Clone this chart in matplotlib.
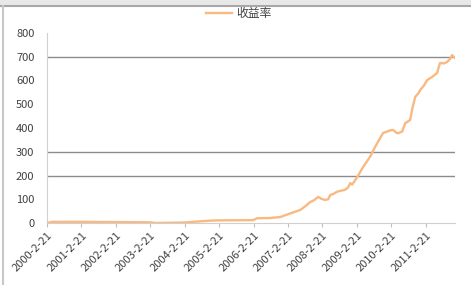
import numpy as np
import pandas as pd
import matplotlib
matplotlib.use("Agg")
from matplotlib import pyplot as plt
from matplotlib.patches import Rectangle
from matplotlib.lines import Line2D

plt.rcParams['font.family'] = ['Noto Sans CJK SC', 'DejaVu Sans']

# cumulative return (%)
dates = ["2000-02-21", "2000-04-15", "2001-02-07", "2002-02-23", "2003-02-19",
         "2003-04-12", "2004-02-14", "2004-11-17", "2005-02-10", "2006-02-17",
         "2006-03-30", "2006-08-15", "2006-12-01", "2007-03-15", "2007-07-01",
         "2007-08-22", "2007-10-15", "2007-11-25", "2008-01-08", "2008-02-10",
         "2008-03-21", "2008-04-23", "2008-05-15", "2008-06-15", "2008-07-28",
         "2008-09-08", "2008-10-20", "2008-11-21", "2008-12-13", "2009-01-03",
         "2009-02-03", "2009-03-08", "2009-04-20", "2009-06-01", "2009-07-13",
         "2009-09-03", "2009-10-15", "2009-11-27", "2010-01-08", "2010-02-10",
         "2010-03-14", "2010-04-15", "2010-05-05", "2010-06-17", "2010-07-19",
         "2010-08-19", "2010-09-10", "2010-10-02", "2010-11-03", "2010-12-04",
         "2010-12-26", "2011-02-05", "2011-03-10", "2011-05-01", "2011-06-23",
         "2011-07-24", "2011-09-04", "2011-10-06", "2011-11-07", "2011-11-28",
         "2011-12-30"]
returns = [0, 5, 5, 4, 3,
           0, 2, 10, 11, 12,
           20, 21, 25, 40, 55,
           70, 88, 96, 110, 102,
           97, 100, 118, 122, 132,
           136, 140, 150, 168, 162,
           180, 200, 230, 255, 280,
           320, 350, 379, 385, 390,
           392, 380, 378, 385, 420,
           428, 434, 480, 531, 545,
           560, 580, 602, 615, 632,
           674, 672, 678, 690, 707,
           695]

tick_dates = ["%d-2-21" % y for y in range(2000, 2012)]
y_ticks = [0, 100, 200, 300, 400, 500, 600, 700, 800]
grid_vals = [200, 300, 700]  # only these gridlines show in the picture
series_name = "收益率"

line_color = "#F9B981"
text_color = "#404040"

d = pd.to_datetime(dates)
fig = plt.figure(figsize=(4.71, 2.85), dpi=100)
fig.patch.set_facecolor("white")

# window-ish frame around the chart
fig.patches.append(Rectangle((0, 1 - 5 / 285), 1, 5 / 285, transform=fig.transFigure,
                             facecolor="#e8e8e8", edgecolor="none"))
fig.lines.append(Line2D([0, 1], [1 - 5.5 / 285] * 2, transform=fig.transFigure,
                        color="#a8a8a8", lw=1.5))
fig.lines.append(Line2D([2.5 / 471] * 2, [0, 1 - 5.5 / 285], transform=fig.transFigure,
                        color="#c8c8c8", lw=1.5))

ax = fig.add_axes([47 / 471, 1 - 223 / 285, (455 - 47) / 471, (223 - 33) / 285])
for g in grid_vals:
    ax.axhline(g, color="#8c8c8c", lw=1.0, zorder=1)
ax.plot(d, returns, color=line_color, lw=1.7, label=series_name, zorder=3)

ax.set_ylim(0, 800)
ax.set_yticks(y_ticks)
ax.set_xlim(pd.Timestamp(dates[0]), pd.Timestamp(dates[-1]))
ax.set_xticks(pd.to_datetime(["%d-02-21" % y for y in range(2000, 2012)]))
ax.set_xticklabels(tick_dates, rotation=45, ha="right", rotation_mode="anchor")

for s in ["top", "right"]:
    ax.spines[s].set_visible(False)
ax.spines["left"].set_color("#d0d0d0")
ax.spines["bottom"].set_color("#d0d0d0")
ax.tick_params(axis="y", length=0, pad=9, labelsize=8, labelcolor=text_color)
ax.tick_params(axis="x", length=3, color="#c0c0c0", pad=2, labelsize=8, labelcolor=text_color)

ax.legend(loc="lower center", bbox_to_anchor=(0.47, 1.01), frameon=False, fontsize=8.5,
          handlelength=2.2, handletextpad=0.4, labelcolor=text_color)

fig.savefig("out.png", dpi=100)
